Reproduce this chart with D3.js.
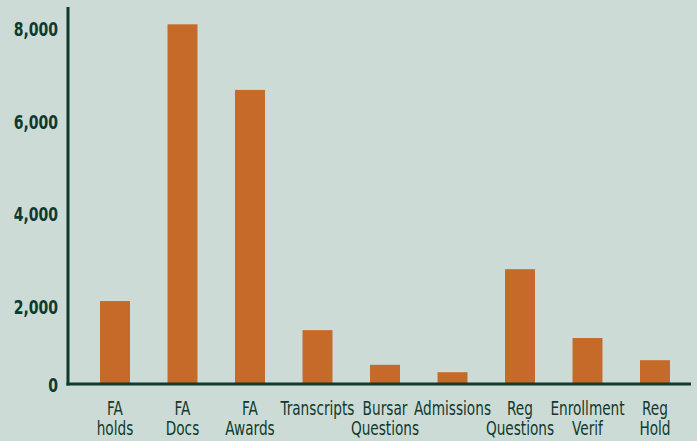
<!DOCTYPE html>
<html>
<head>
<meta charset="utf-8">
<script src="https://cdn.jsdelivr.net/npm/d3@7"></script>
<style>
  html, body { margin: 0; padding: 0; background: #cddbd7; }
  svg { display: block; }
</style>
</head>
<body>
<div id="chart"></div>
<script>
// data
const categories = [
  ['FA', 'holds'],
  ['FA', 'Docs'],
  ['FA', 'Awards'],
  ['Transcripts'],
  ['Bursar', 'Questions'],
  ['Admissions'],
  ['Reg', 'Questions'],
  ['Enrollment', 'Verif'],
  ['Reg', 'Hold']
]
const counts = [2120, 8110, 6690, 1490, 740, 580, 2810, 1320, 840]
const tickValues = [0, 2000, 4000, 6000, 8000]

const width = 697
const height = 441
const axisX = 68
const baseY = 384
const ink = '#0f3a2d'
// no condensed face installed, so squeeze a condensed-ish one sideways
const font = '"DejaVu Sans Condensed", "DejaVu Sans", sans-serif'

const svg = d3.select('#chart').append('svg')
  .attr('width', width)
  .attr('height', height)

svg.append('rect')
  .attr('width', width)
  .attr('height', height)
  .attr('fill', '#cddbd7')

const keys = categories.map((c) => c.join(' '))

const x = d3.scaleBand()
  .domain(keys)
  .range([81.25, 688.75])
  .paddingInner(0.556)
  .paddingOuter(0.278)

const y = d3.scaleLinear()
  .domain([0, 8000])
  .range([399, 29.4])

// bars
svg.append('g')
  .selectAll('rect')
  .data(counts)
  .join('rect')
  .attr('x', (d, i) => x(keys[i]))
  .attr('width', x.bandwidth())
  .attr('y', (d) => y(d))
  .attr('height', (d) => baseY - y(d))
  .attr('fill', '#c66a2a')

// y axis
const yAxis = svg.append('g')
  .attr('transform', 'translate(' + axisX + ',0)')
  .call(d3.axisLeft(y).tickValues(tickValues).tickSize(0).tickPadding(10).tickFormat(d3.format(',')))
yAxis.select('.domain').remove()
yAxis.selectAll('text')
  .attr('x', 0)
  .attr('transform', 'translate(-10,0) scale(0.78,1)')
  .attr('fill', ink)
  .style('font-family', font)
  .style('font-weight', 'bold')
  .style('font-size', '20px')
// the zero label sits on the baseline in the original
yAxis.selectAll('.tick')
  .filter((d) => d === 0)
  .attr('transform', 'translate(0,' + (baseY + 2) + ')')

svg.append('line')
  .attr('x1', axisX).attr('x2', axisX)
  .attr('y1', 7).attr('y2', baseY + 1.5)
  .attr('stroke', ink)
  .attr('stroke-width', 3)

svg.append('line')
  .attr('x1', axisX - 1.5).attr('x2', 691)
  .attr('y1', baseY).attr('y2', baseY)
  .attr('stroke', ink)
  .attr('stroke-width', 3)

// category labels
const labels = svg.append('g')
  .selectAll('g')
  .data(categories)
  .join('g')
  .attr('transform', (d, i) => 'translate(' + (x(keys[i]) + x.bandwidth() / 2) + ',415) scale(0.8,1)')
  .append('text')
  .attr('text-anchor', 'middle')
  .attr('fill', ink)
  .style('font-family', font)
  .style('font-size', '19px')

labels.selectAll('tspan')
  .data((d) => d)
  .join('tspan')
  .attr('x', 0)
  .attr('dy', (d, i) => (i === 0 ? 0 : 20))
  .text((d) => d)
</script>
</body>
</html>
